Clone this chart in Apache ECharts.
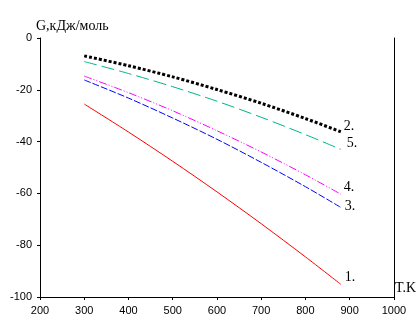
<!DOCTYPE html>
<html>
<head>
<meta charset="utf-8">
<script src="https://cdn.jsdelivr.net/npm/echarts@6/dist/echarts.min.js"></script>
<style>
  html, body { margin: 0; padding: 0; background: #fff; }
  #chart { width: 419px; height: 328px; }
</style>
</head>
<body>
<div id="chart"></div>
<script>
// температура, K
const temps = [300, 400, 500, 600, 700, 800, 880]
// G, кДж/моль для кривых 1..5
const curve1 = [-25.5, -36.3, -47.6, -59.4, -71.7, -84.5, -95.1]
const curve2 = [-6.9, -10.7, -15.0, -19.9, -25.2, -31.1, -36.2]
const curve3 = [-16.2, -23.2, -30.9, -39.1, -48.0, -57.4, -65.4]
const curve4 = [-14.7, -21.1, -28.1, -35.8, -44.0, -52.8, -60.3]
const curve5 = [-9.1, -13.7, -18.8, -24.4, -30.6, -37.3, -43.0]
const curveNames = ['1.', '2.', '3.', '4.', '5.']

const chart = echarts.init(document.getElementById('chart'))

function pairs (ys) {
  return temps.map((t, i) => [t, ys[i]])
}

const serifFont = 'Liberation Serif'
const sansFont = 'Liberation Sans'

function makeSeries (name, ys, color, width, dash, offset) {
  return {
    name: name,
    type: 'line',
    data: pairs(ys),
    smooth: 0.3,
    symbol: 'none',
    silent: true,
    animation: false,
    lineStyle: { color: color, width: width, type: dash, cap: 'butt' },
    endLabel: {
      show: true,
      formatter: name,
      color: '#000',
      fontFamily: serifFont,
      fontSize: 14,
      distance: 2,
      offset: offset
    }
  }
}

const option = {
  backgroundColor: '#fff',
  animation: false,
  title: {
    text: 'G,кДж/моль',
    left: 36,
    top: 19,
    padding: 0,
    textStyle: { fontFamily: serifFont, fontSize: 14, fontWeight: 'normal', color: '#000' }
  },
  grid: { left: 40, right: 20, top: 38, bottom: 31, containLabel: false },
  xAxis: {
    type: 'value',
    min: 200,
    max: 1000,
    interval: 100,
    name: 'T.K',
    nameLocation: 'end',
    nameGap: 1,
    nameTextStyle: {
      fontFamily: serifFont, fontSize: 14, color: '#000',
      align: 'left', verticalAlign: 'bottom', padding: [0, 0, 2, 0]
    },
    axisLine: { show: true, onZero: false, lineStyle: { color: '#000', width: 1 } },
    axisTick: { show: true, length: 3, lineStyle: { color: '#000' } },
    axisLabel: { color: '#000', fontFamily: sansFont, fontSize: 11, margin: 8, formatter: v => String(v) },
    splitLine: { show: false }
  },
  yAxis: [
    {
      type: 'value',
      min: -100,
      max: 0,
      interval: 20,
      axisLine: { show: true, onZero: false, lineStyle: { color: '#000', width: 1 } },
      axisTick: { show: true, length: 3, lineStyle: { color: '#000' } },
      axisLabel: { color: '#000', fontFamily: sansFont, fontSize: 11, margin: 8 },
      splitLine: { show: false }
    },
    {
      type: 'value',
      position: 'right',
      min: -100,
      max: 0,
      interval: 20,
      axisLine: { show: true, onZero: false, lineStyle: { color: '#000', width: 1 } },
      axisTick: { show: false },
      axisLabel: { show: false },
      splitLine: { show: false }
    }
  ],
  series: [
    makeSeries(curveNames[0], curve1, '#ff0000', 1, 'solid', [2, -7]),
    makeSeries(curveNames[1], curve2, '#000000', 3, [3, 2], [1, -5]),
    makeSeries(curveNames[2], curve3, '#0000ff', 1, [7, 2], [2, -1]),
    makeSeries(curveNames[3], curve4, '#ff00ff', 1, [8, 2, 1, 2, 1, 2], [1, -7]),
    makeSeries(curveNames[4], curve5, '#00b48c', 1, [13, 5], [4, -6])
  ]
}

chart.setOption(option)
</script>
</body>
</html>
